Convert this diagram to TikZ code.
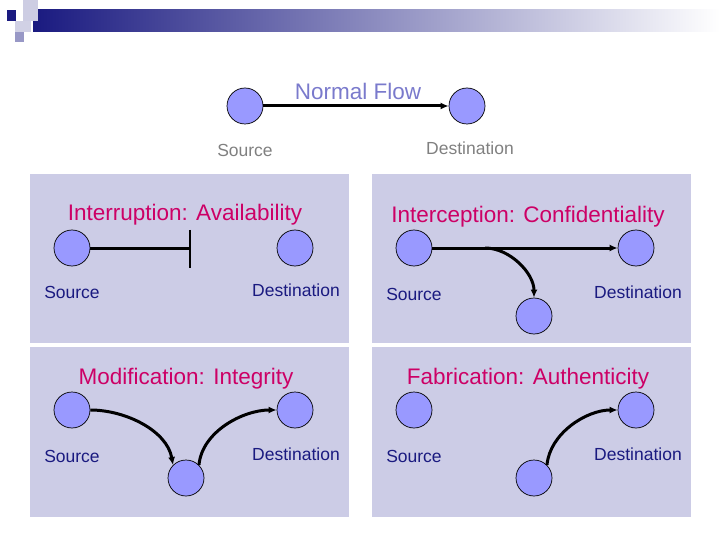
\documentclass[tikz,border=0pt]{standalone}
\usepackage{fontspec}
\setmainfont{Liberation Sans}
\usetikzlibrary{arrows.meta}
\definecolor{navy}{HTML}{1A1A80}
\definecolor{pink}{HTML}{CC0066}
\definecolor{panel}{HTML}{CCCCE6}
\definecolor{node}{HTML}{9999FF}
\begin{document}
\begin{tikzpicture}[x=1pt,y=-1pt,
 nd/.style={circle,draw=black,fill=node,minimum size=36pt,inner sep=0pt,line width=0.7pt},
 ttl/.style={text=pink,font=\fontsize{22.5}{22.5}\selectfont},
 lbl/.style={text=navy,font=\fontsize{17.5}{17.5}\selectfont},
 pan/.style={fill=panel,draw=none},
 ar/.style={line width=3pt,-{Latex[length=8pt,width=7pt]}}]
\useasboundingbox (0,0) rectangle (720,540);
% header
\shade[left color=navy,right color=white] (33,10) rectangle (720,32);
\fill[navy] (7,10) rectangle (16,21);
\fill[navy!22] (23,0) rectangle (38,21);
\fill[navy!20] (15,21) rectangle (31,32);
\fill[navy!45] (15,32) rectangle (24,42);
% normal flow
\node[nd] (ns) at (245,106) {};
\node[nd] (nd) at (467,106) {};
\draw[ar] (ns) -- (nd);
\node[text=node!80!black,font=\fontsize{22.5}{22.5}\selectfont] (nt) at (358,91) {Normal Flow};
\node[text=gray,font=\fontsize{17.5}{17.5}\selectfont] (nsl) at (245,150) {Source};
\node[text=gray,font=\fontsize{17.5}{17.5}\selectfont] (ndl) at (470,148) {Destination};
% panels
\fill[pan] (30,174) rectangle (349,343);
\fill[pan] (372,174) rectangle (691,343);
\fill[pan] (30,347) rectangle (349,517);
\fill[pan] (372,347) rectangle (691,517);
% interruption
\node[ttl] (t1) at (185,215) {Interruption: Availability};
\node[nd] (a1) at (72,248) {};
\node[nd] (b1) at (295,248) {};
\coordinate (c1) at (190,248);
\draw[line width=3pt] (a1) -- (c1);
\coordinate (c1t) at (190,230); \coordinate (c1b) at (190,268);
\draw[line width=1.2pt] (c1t) -- (c1b);
\node[lbl] (s1) at (72,292) {Source};
\node[lbl] (d1) at (296,290) {Destination};
% interception
\node[ttl] (t2) at (528,217) {Interception: Confidentiality};
\node[nd] (a2) at (414,248) {};
\node[nd] (b2) at (636,248) {};
\node[nd] (m2) at (534,316) {};
\draw[ar] (a2) -- (b2);
\coordinate (k2) at (485,248);
\draw[ar] (k2) to[out=0,in=90,looseness=0.9] (m2);
\node[lbl] (s2) at (414,294) {Source};
\node[lbl] (d2) at (638,292) {Destination};
% modification
\node[ttl] (t3) at (186,379) {Modification: Integrity};
\node[nd] (a3) at (72,410) {};
\node[nd] (b3) at (295,410) {};
\node[nd] (m3) at (186,478) {};
\draw[ar] (a3.east) to[out=0,in=100,looseness=0.9] (m3.north west);
\draw[ar] (m3.north east) to[out=85,in=180,looseness=0.9] (b3.west);
\node[lbl] (s3) at (72,456) {Source};
\node[lbl] (d3) at (296,454) {Destination};
% fabrication
\node[ttl] (t4) at (528,379) {Fabrication: Authenticity};
\node[nd] (a4) at (414,410) {};
\node[nd] (b4) at (636,410) {};
\node[nd] (m4) at (534,478) {};
\draw[ar] (m4.north east) to[out=85,in=180,looseness=0.9] (b4.west);
\node[lbl] (s4) at (414,456) {Source};
\node[lbl] (d4) at (638,454) {Destination};
\end{tikzpicture}
\end{document}
